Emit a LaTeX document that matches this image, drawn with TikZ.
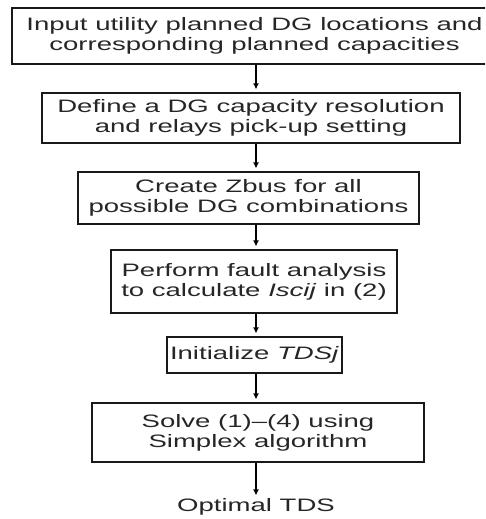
\documentclass[tikz,border=0pt]{standalone}
\usepackage{fontspec}
\newfontfamily\wide[FakeStretch=1.53]{Liberation Sans}
\usetikzlibrary{arrows.meta}
\begin{document}
\begin{tikzpicture}[x=1pt,y=-1pt,
  box/.style={draw=black!90, line width=1.2pt, rectangle, inner sep=0pt, align=center,
    font=\wide\fontsize{18}{20}\selectfont, text=black!85},
  arr/.style={draw=black, line width=1.2pt, -{Latex[length=6pt,width=6pt]}, shorten >=3pt},
  plain/.style={inner sep=0pt, font=\wide\fontsize{18}{20}\selectfont, text=black!85}]
\useasboundingbox (0,0) rectangle (485,519);
\clip (0,0) rectangle (485,519);
\coordinate (ax) at (256,0);
\node[box, minimum width=485pt, minimum height=56pt] (b1) at (254.5,36)
  {Input utility planned DG locations and\\corresponding planned capacities};
\node[box, minimum width=418pt, minimum height=50pt] (b2) at (251,118)
  {Define a DG capacity resolution\\and relays pick-up setting};
\node[box, minimum width=341pt, minimum height=52pt] (b3) at (248.5,198)
  {Create Zbus for all\\possible DG combinations};
\node[box, minimum width=286pt, minimum height=63pt] (b4) at (254,281.5)
  {Perform fault analysis\\to calculate \textit{Iscij} in (2)};
\node[box, minimum width=175pt, minimum height=36pt] (b5) at (254.5,355)
  {Initialize \textit{TDSj}};
\node[box, minimum width=332pt, minimum height=59pt] (b6) at (258,432.5)
  {Solve (1)–(4) using\\Simplex algorithm};
\node[plain] (out) at (256,507) {Optimal TDS};
\draw[arr] (b1.south -| ax) -- (b2.north -| ax);
\draw[arr] (b2.south -| ax) -- (b3.north -| ax);
\draw[arr] (b3.south -| ax) -- (b4.north -| ax);
\draw[arr] (b4.south -| ax) -- (b5.north -| ax);
\draw[arr] (b5.south -| ax) -- (b6.north -| ax);
\draw[arr] (b6.south -| ax) -- (out.north -| ax);
\end{tikzpicture}
\end{document}
